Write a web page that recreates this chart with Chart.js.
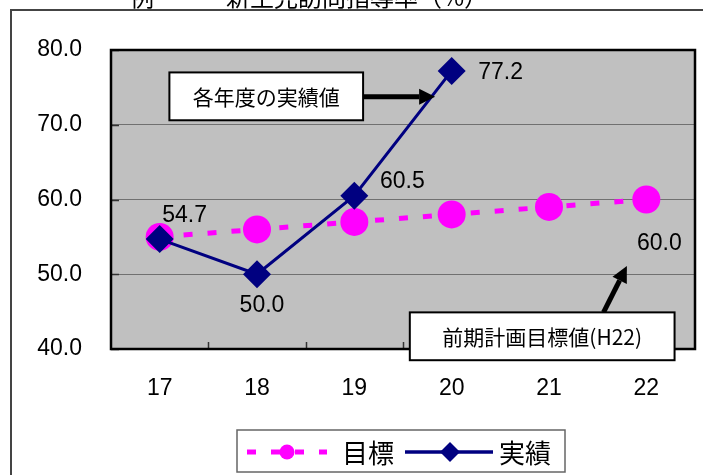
<!DOCTYPE html>
<html lang="ja">
<head>
<meta charset="utf-8">
<title>新生児訪問指導率</title>
<script src="https://cdn.jsdelivr.net/npm/chart.js@4.4.1/dist/chart.umd.min.js"></script>
<style>
    html, body { margin: 0; padding: 0; background: #fff; }
    canvas { display: block; }
</style>
</head>
<body>
<canvas id="chartRate" width="703" height="475"></canvas>
<script>
const YEARS = ["17", "18", "19", "20", "21", "22"];
const TARGET = [55.0, 56.0, 57.0, 58.0, 59.0, 60.0];
const ACTUAL = [54.7, 50.0, 60.5, 77.2, null, null];
const Y_TICKS = [40, 50, 60, 70, 80];
const SERIES_NAMES = ["目標", "実績"];
const TITLE_TEXT = "例　　　新生児訪問指導率（%）";
const NOTE_ACTUAL = "各年度の実績値";
const NOTE_TARGET = "前期計画目標値(H22)";

const PINK = "#ff00ff";
const NAVY = "#000080";
const NUM_FONT = "23px 'Liberation Sans', Arial, sans-serif";
const JP_FONT = "'Noto Sans CJK JP', 'Liberation Sans', sans-serif";

const el = (id) => document.getElementById(id);

// which points get a value label, and where it sits relative to the point
const valueLabels = [
    { ds: 1, idx: 0, dx: 25, dy: -23 },
    { ds: 1, idx: 1, dx: 5, dy: 31 },
    { ds: 1, idx: 2, dx: 48, dy: -14 },
    { ds: 1, idx: 3, dx: 49, dy: 2 },
    { ds: 0, idx: 5, dx: 13, dy: 44 },
];

const arrow = (ctx, x1, y1, x2, y2, head, width) => {
    const ang = Math.atan2(y2 - y1, x2 - x1);
    const bx = x2 - Math.cos(ang) * head;
    const by = y2 - Math.sin(ang) * head;
    ctx.save();
    ctx.strokeStyle = "#000";
    ctx.fillStyle = "#000";
    ctx.lineWidth = width;
    ctx.beginPath();
    ctx.moveTo(x1, y1);
    ctx.lineTo(bx, by);
    ctx.stroke();
    ctx.beginPath();
    ctx.moveTo(x2, y2);
    ctx.lineTo(bx + Math.sin(ang) * head * 0.5, by - Math.cos(ang) * head * 0.5);
    ctx.lineTo(bx - Math.sin(ang) * head * 0.5, by + Math.cos(ang) * head * 0.5);
    ctx.closePath();
    ctx.fill();
    ctx.restore();
};

const noteBox = (ctx, x1, y1, x2, y2, text, size) => {
    ctx.save();
    ctx.fillStyle = "#fff";
    ctx.fillRect(x1, y1, x2 - x1, y2 - y1);
    ctx.strokeStyle = "#000";
    ctx.lineWidth = 2;
    ctx.strokeRect(x1, y1, x2 - x1, y2 - y1);
    ctx.fillStyle = "#000";
    ctx.font = `${size}px ${JP_FONT}`;
    ctx.textAlign = "center";
    ctx.textBaseline = "middle";
    ctx.fillText(text, (x1 + x2) / 2, (y1 + y2) / 2 + 1);
    ctx.restore();
};

const framePlugin = {
    id: "frame",
    beforeDraw(chart) {
        const { ctx, chartArea: a } = chart;
        ctx.save();
        // outer frame (partly outside the picture)
        ctx.strokeStyle = "#444";
        ctx.lineWidth = 2;
        ctx.beginPath();
        ctx.moveTo(11, chart.height + 2);
        ctx.lineTo(11, 10);
        ctx.lineTo(chart.width + 2, 10);
        ctx.stroke();
        // clipped title
        ctx.fillStyle = "#000";
        ctx.font = `24px ${JP_FONT}`;
        ctx.textBaseline = "bottom";
        ctx.textAlign = "left";
        ctx.fillText(TITLE_TEXT, 130, 9);
        // plot background
        ctx.fillStyle = "#c0c0c0";
        ctx.fillRect(a.left, a.top, a.right - a.left, a.bottom - a.top);
        ctx.restore();
    },
    beforeDatasetsDraw(chart) {
        const { ctx, chartArea: a, scales } = chart;
        ctx.save();
        ctx.strokeStyle = "#333";
        ctx.lineWidth = 1.5;
        ctx.beginPath();
        for (let i = 1; i < YEARS.length; i++) {
            const x = Math.round(scales.x.getPixelForValue(i - 0.5)) + 0.5;
            ctx.moveTo(x, a.bottom);
            ctx.lineTo(x, a.bottom - 7);
        }
        Y_TICKS.forEach((v) => {
            const y = Math.round(scales.y.getPixelForValue(v)) + 0.5;
            ctx.moveTo(a.left, y);
            ctx.lineTo(a.left + 8, y);
        });
        ctx.stroke();
        ctx.strokeStyle = "#000";
        ctx.lineWidth = 2.5;
        ctx.strokeRect(a.left, a.top, a.right - a.left, a.bottom - a.top);
        ctx.restore();
    },
    afterDatasetsDraw(chart) {
        const { ctx, scales } = chart;
        const sx = (v) => scales.x.getPixelForValue(v);
        const sy = (v) => scales.y.getPixelForValue(v);

        // value labels
        ctx.save();
        ctx.fillStyle = "#000";
        ctx.font = NUM_FONT;
        ctx.textAlign = "center";
        ctx.textBaseline = "middle";
        valueLabels.forEach((l) => {
            const pt = chart.getDatasetMeta(l.ds).data[l.idx];
            const v = chart.data.datasets[l.ds].data[l.idx];
            ctx.fillText(v.toFixed(1), pt.x + l.dx, pt.y + l.dy);
        });
        ctx.restore();

        // notes with arrows
        noteBox(ctx, sx(0.1), sy(77.0), sx(2.09), sy(70.6), NOTE_ACTUAL, 21);
        arrow(ctx, sx(2.09), sy(73.75), sx(2.83), sy(73.75), 16, 5);
        arrow(ctx, sx(4.56), sy(44.9), sx(4.8), sy(51.1), 16, 5);
        noteBox(ctx, sx(2.57), sy(44.9), sx(5.29), sy(38.5), NOTE_TARGET, 21);
    },
    afterDraw(chart) {
        const { ctx } = chart;
        const ds = chart.data.datasets;
        const cy = 452;
        ctx.save();
        ctx.fillStyle = "#fff";
        ctx.fillRect(237, 430, 328, 42);
        ctx.strokeStyle = "#666";
        ctx.lineWidth = 1.5;
        ctx.strokeRect(237, 430, 328, 42);

        // 目標 sample
        ctx.strokeStyle = ds[0].borderColor;
        ctx.lineWidth = 5;
        ctx.setLineDash(ds[0].borderDash);
        ctx.beginPath();
        ctx.moveTo(247, cy);
        ctx.lineTo(327, cy);
        ctx.stroke();
        ctx.setLineDash([]);
        ctx.fillStyle = ds[0].pointBackgroundColor;
        ctx.beginPath();
        ctx.arc(287, cy, 7.5, 0, Math.PI * 2);
        ctx.fill();

        // 実績 sample
        ctx.strokeStyle = ds[1].borderColor;
        ctx.lineWidth = 3.5;
        ctx.beginPath();
        ctx.moveTo(405, cy);
        ctx.lineTo(493, cy);
        ctx.stroke();
        ctx.fillStyle = ds[1].pointBackgroundColor;
        ctx.beginPath();
        ctx.moveTo(450, cy - 10);
        ctx.lineTo(460, cy);
        ctx.lineTo(450, cy + 10);
        ctx.lineTo(440, cy);
        ctx.closePath();
        ctx.fill();

        ctx.fillStyle = "#000";
        ctx.font = `26px ${JP_FONT}`;
        ctx.textBaseline = "middle";
        ctx.textAlign = "left";
        ctx.fillText(ds[0].label, 342, cy + 1);
        ctx.fillText(ds[1].label, 499, cy + 1);
        ctx.restore();
    },
};

function renderChart() {
    const ctx = el("chartRate").getContext("2d");
    return new Chart(ctx, {
        type: "line",
        data: {
            labels: YEARS,
            datasets: [{
                label: SERIES_NAMES[0],
                data: TARGET,
                order: 2,
                borderColor: PINK,
                borderWidth: 5,
                borderDash: [9, 15],
                borderCapStyle: "butt",
                pointStyle: "circle",
                pointRadius: 14,
                pointBackgroundColor: PINK,
                pointBorderWidth: 0,
                tension: 0,
            }, {
                label: SERIES_NAMES[1],
                data: ACTUAL,
                order: 1,
                borderColor: NAVY,
                borderWidth: 3,
                pointStyle: "rectRot",
                pointRadius: 14,
                pointBackgroundColor: NAVY,
                pointBorderWidth: 0,
                spanGaps: false,
                tension: 0,
            }, ],
        },
        options: {
            responsive: false,
            devicePixelRatio: 1,
            animation: false,
            events: [],
            layout: {
                autoPadding: false,
                padding: { left: 11, right: 8, top: 50, bottom: 66 },
            },
            scales: {
                x: {
                    type: "category",
                    offset: true,
                    grid: { display: false, drawTicks: false },
                    border: { display: false },
                    ticks: {
                        color: "#000",
                        padding: 26,
                        font: { family: "'Liberation Sans', Arial, sans-serif", size: 23 },
                    },
                    afterFit: (s) => { s.height = 60; },
                },
                y: {
                    min: 40,
                    max: 80,
                    afterBuildTicks: (s) => { s.ticks = Y_TICKS.map((v) => ({ value: v })); },
                    grid: { color: "#707070", lineWidth: 1, drawTicks: false },
                    border: { display: false },
                    ticks: {
                        color: "#000",
                        padding: 29,
                        font: { family: "'Liberation Sans', Arial, sans-serif", size: 23 },
                        callback: (v) => Number(v).toFixed(1),
                    },
                    afterFit: (s) => { s.width = 100; },
                },
            },
            plugins: {
                legend: { display: false },
                title: { display: false },
                tooltip: { enabled: false },
            },
        },
        plugins: [framePlugin],
    });
}

document.addEventListener("DOMContentLoaded", () => {
    renderChart();
});
</script>
</body>
</html>
